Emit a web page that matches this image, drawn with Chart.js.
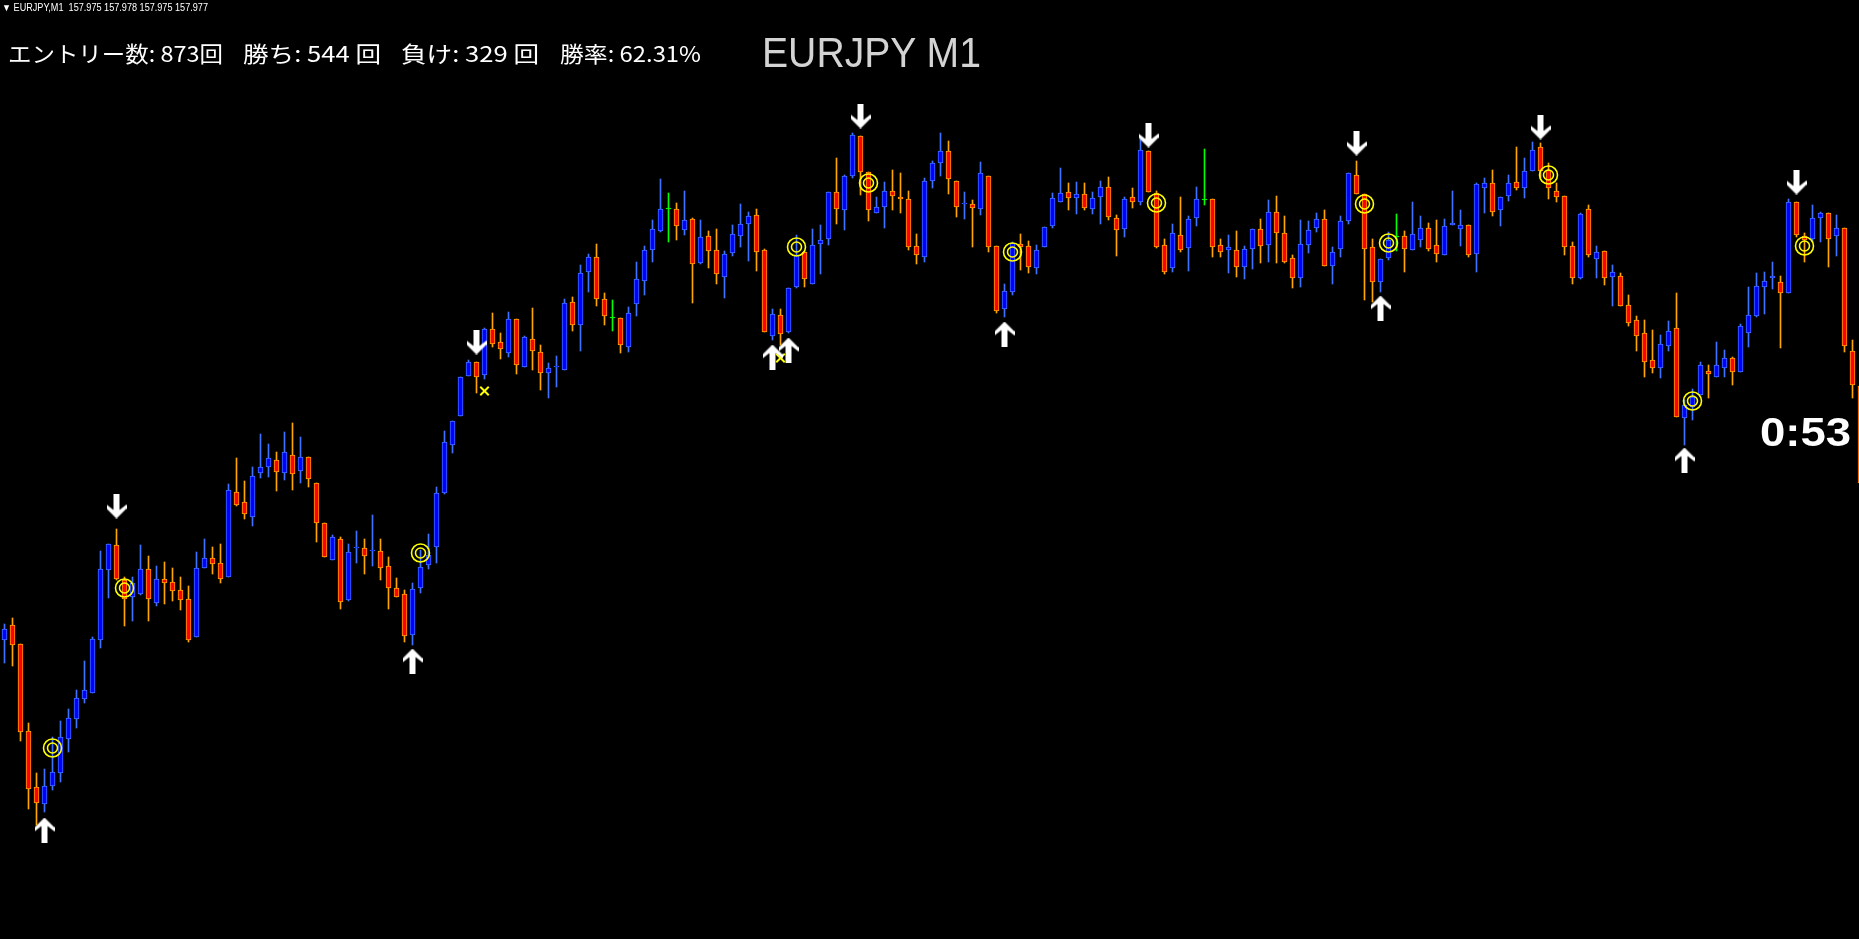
<!DOCTYPE html>
<html>
<head>
<meta charset="utf-8">
<script src="https://cdn.jsdelivr.net/npm/chart.js@4.4.0/dist/chart.umd.min.js"></script>
<style>
  html, body { margin: 0; padding: 0; background: #000; overflow: hidden; }
  #wrap { position: relative; width: 1859px; height: 939px; }
  #candleChart { position: absolute; left: 0; top: 0; }
  .lbl { position: absolute; white-space: pre; line-height: 1; transform-origin: 0 0; }
</style>
</head>
<body>
<div id="wrap">
  <canvas id="candleChart" width="1859" height="939"></canvas>
</div>
<script>
// EURJPY M1 candles, price levels (higher = higher price)
const openP = [
  360,375,356,269,213,196,214,227,261,281, 301,307,360,430,455,420,403,406,431,397,
  421,418,410,401,363,432,442,437,423,508, 498,483,527,533,540,527,545,529,543,517,
  477,440,461,400,452,452,449,449,434,412, 406,365,412,435,453,507,555,584,624,638,
  625,671,658,647,681,633,661,648,627,633, 630,698,675,728,743,701,682,682,653,696,
  719,750,769,791,791,770,781,737,764,750, 723,747,764,776,785,750,664,685,668,713,
  748,716,756,761,808,790,824,864,828,787, 793,809,803,801,754,743,819,837,849,819,
  796,796,791,824,754,691,708,756,754,732, 753,774,798,808,802,806,791,803,813,782,
  771,803,798,849,807,755,732,765,752,782, 800,801,755,750,750,733,751,771,755,788,
  767,742,722,755,772,781,734,751,779,825, 806,753,718,742,763,764,750,760,772,755,
  745,775,771,775,746,812,817,790,804,818, 812,829,853,830,809,804,754,722,791,741,
  749,723,724,695,680,667,640,632,654,672, 582,593,605,629,623,632,642,628,667,684,
  713,722,718,707,798,764,761,782,787,764, 772,649,614
];
const highP = [
  376,382,356,277,227,231,263,279,291,310, 339,363,449,456,471,423,423,455,444,434,
  438,432,423,414,448,461,453,456,516,542, 519,533,566,556,548,568,577,563,543,517,
  477,465,463,456,469,461,485,461,443,422, 410,417,450,466,513,569,579,623,640,638,
  672,687,667,688,681,664,692,655,637,644, 701,703,735,746,756,707,700,682,693,738,
  754,780,821,807,797,809,782,780,769,771, 749,775,796,788,791,751,691,691,712,765,
  748,771,775,808,842,825,867,864,828,803, 818,830,827,809,766,822,839,867,859,819,
  808,800,838,824,754,716,758,766,759,755, 773,807,832,817,818,817,808,819,823,785,
  803,812,861,849,809,761,776,803,784,813, 851,801,761,765,769,754,771,781,800,804,
  784,745,780,779,787,790,753,784,827,839, 806,761,741,768,786,769,798,784,777,780,
  781,809,790,775,817,822,830,803,825,853, 842,858,857,837,817,804,758,787,795,754,
  749,735,727,705,684,680,670,665,679,707, 600,611,638,635,658,650,643,676,713,727,
  728,738,724,801,798,767,795,788,787,785, 772,660,614
];
const lowP = [
  337,334,259,191,175,188,210,218,248,272, 297,307,352,402,420,374,379,405,379,394,
  396,399,390,358,363,432,426,417,423,494, 481,474,522,523,509,520,510,517,513,458,
  443,440,391,399,437,426,434,420,391,403, 358,355,407,431,437,506,547,584,624,607,
  621,653,641,643,626,633,630,610,602,613, 630,669,649,708,694,675,669,647,648,684,
  705,738,768,758,760,765,697,736,732,716, 702,744,753,739,729,668,660,655,667,712,
  713,716,726,755,776,770,822,805,779,787, 772,790,787,750,736,738,812,824,806,783,
  781,753,785,748,687,683,705,730,727,726, 753,772,798,790,786,790,786,776,780,744,
  763,792,795,808,752,726,728,748,729,774, 795,743,743,727,723,721,731,737,738,737,
  737,712,713,747,768,734,716,743,776,806, 700,698,708,740,749,728,750,753,749,738,
  745,775,754,743,728,787,784,774,799,810, 802,829,822,801,798,745,716,721,743,722,
  715,694,694,674,649,623,627,622,649,583, 555,580,605,602,623,623,615,628,653,683,
  686,711,652,707,763,738,758,758,733,744, 648,602,517
];
const closeP = [
  371,355,268,211,197,214,228,263,282,302, 310,361,431,456,421,401,417,431,401,421,
  417,409,400,360,432,442,436,421,510,495, 486,524,533,542,528,548,526,543,521,477,
  443,463,398,448,453,444,450,432,412,403, 364,411,433,445,507,558,579,623,638,623,
  671,656,651,681,635,663,649,627,632,634, 697,675,727,743,701,684,682,655,687,721,
  750,771,791,791,774,780,736,763,749,726, 746,766,776,784,748,668,686,666,712,745,
  721,755,760,808,791,824,865,828,790,793, 809,804,801,753,745,819,837,849,821,793,
  797,792,827,753,689,709,757,753,733,750, 773,802,807,802,806,792,802,813,783,770,
  801,798,850,808,753,728,767,750,781,801, 800,753,748,753,733,751,771,754,788,767,
  738,722,756,770,781,734,748,779,827,806, 751,718,741,760,763,751,766,772,751,746,
  774,777,775,745,816,817,788,803,817,812, 829,850,829,812,803,753,722,786,745,748,
  722,728,694,677,664,638,632,656,669,583, 595,603,635,626,635,642,628,674,685,714,
  719,724,707,798,765,760,782,787,761,772, 654,615,517
];

// signal marks: candle index + level
const upIdx   = [5, 51, 96, 98, 125, 172, 210];
const upLvl   = [170, 339, 643, 650, 666, 692, 540];
const downIdx = [14, 59, 107, 143, 169, 192, 224];
const downLvl = [494, 658, 884, 865, 857, 873, 818];
const winIdx  = [6, 15, 52, 99, 108, 126, 144, 170, 173, 193, 211, 225];
const winLvl  = [252, 412, 447, 753, 817, 748, 797, 796, 757, 825, 599, 754];
const lossIdx = [60, 97];
const lossLvl = [609, 642];

const headerText = '▼ EURJPY,M1  157.975 157.978 157.975 157.977';
const statLabels = ['エントリー数: 873回', '勝ち: 544 回', '負け: 329 回', '勝率: 62.31%'];
const symbolTitle = 'EURJPY M1';
const countdown = '0:53';

const bullFill = '#0000ff', bullEdge = '#4070ff';
const bearFill = '#ff0000', bearEdge = '#ffa500';
const dojiCol = '#00ff00';

const idx = openP.map((_, i) => i);
function tone(i, up, down, even) {
  if (closeP[i] > openP[i]) return up;
  if (closeP[i] < openP[i]) return down;
  return even;
}

function arrowImage(up) {
  const c = document.createElement('canvas');
  c.width = 20; c.height = 25;
  const g = c.getContext('2d');
  if (!up) { g.translate(0, 25); g.scale(1, -1); }
  const pts = [[10,0],[20,10],[20,14],[13,8.5],[13,25],[7,25],[7,8.5],[0,14],[0,10]];
  g.fillStyle = '#ffffff';
  g.beginPath();
  pts.forEach((p, k) => k ? g.lineTo(p[0], p[1]) : g.moveTo(p[0], p[1]));
  g.closePath();
  g.fill();
  return c;
}

const pts = (xs, ys) => xs.map((x, k) => ({ x: x, y: ys[k] }));

new Chart(document.getElementById('candleChart'), {
  type: 'bar',
  data: {
    datasets: [
      { type: 'scatter', data: pts(upIdx, upLvl), pointStyle: arrowImage(true), order: 0 },
      { type: 'scatter', data: pts(downIdx, downLvl), pointStyle: arrowImage(false), order: 0 },
      { type: 'scatter', data: pts(winIdx, winLvl), pointStyle: 'circle', pointRadius: 9,
        pointBorderColor: '#ffff00', pointBorderWidth: 1.6, pointBackgroundColor: 'rgba(0,0,0,0)', order: 0 },
      { type: 'scatter', data: pts(winIdx, winLvl), pointStyle: 'circle', pointRadius: 5,
        pointBorderColor: '#ffff00', pointBorderWidth: 1.6, pointBackgroundColor: 'rgba(0,0,0,0)', order: 0 },
      { type: 'scatter', data: pts(lossIdx, lossLvl), pointStyle: 'crossRot', pointRadius: 6,
        pointBorderColor: '#ffff00', pointBorderWidth: 2, order: 0 },
      // bodies
      {
        data: idx.map(i => ({ x: i, y: [openP[i], closeP[i]] })),
        backgroundColor: idx.map(i => tone(i, bullFill, bearFill, dojiCol)),
        borderColor: idx.map(i => tone(i, bullEdge, bearEdge, dojiCol)),
        borderWidth: 1, borderSkipped: false, barThickness: 5, minBarLength: 1,
        grouped: false, order: 1
      },
      // wicks
      {
        data: idx.map(i => ({ x: i, y: [lowP[i], highP[i]] })),
        backgroundColor: idx.map(i => tone(i, bullEdge, bearEdge, dojiCol)),
        borderWidth: 0, barThickness: 1, grouped: false, order: 2
      }
    ]
  },
  options: {
    responsive: false,
    animation: false,
    events: [],
    layout: { padding: 0, autoPadding: false },
    plugins: { legend: { display: false }, tooltip: { enabled: false } },
    scales: {
      x: { type: 'linear', offset: false, min: -0.5625, max: 231.8125, display: false },
      y: { min: 61, max: 1000, display: false }
    }
  }
});

// text overlays
const wrap = document.getElementById('wrap');
function addLabel(text, left, top, width, font, color) {
  const el = document.createElement('div');
  el.className = 'lbl';
  el.textContent = text;
  el.style.left = left + 'px';
  el.style.top = top + 'px';
  el.style.font = font;
  el.style.color = color;
  wrap.appendChild(el);
  const w = el.getBoundingClientRect().width;
  el.style.transform = 'scaleX(' + (width / w) + ')';
}
addLabel(headerText, 2, 2, 206, '10px "Liberation Sans"', '#ffffff');
const jp = '22px "Noto Sans CJK JP"';
addLabel(statLabels[0], 8, 36, 215, jp, '#ffffff');
addLabel(statLabels[1], 243, 36, 138, jp, '#ffffff');
addLabel(statLabels[2], 401, 36, 138, jp, '#ffffff');
addLabel(statLabels[3], 560, 36, 141, jp, '#ffffff');
addLabel(symbolTitle, 762, 29, 219, '42px "Liberation Sans"', '#d3d3d3');
addLabel(countdown, 1760, 409, 91, 'bold 41px "Liberation Sans"', '#ffffff');
</script>
</body>
</html>
